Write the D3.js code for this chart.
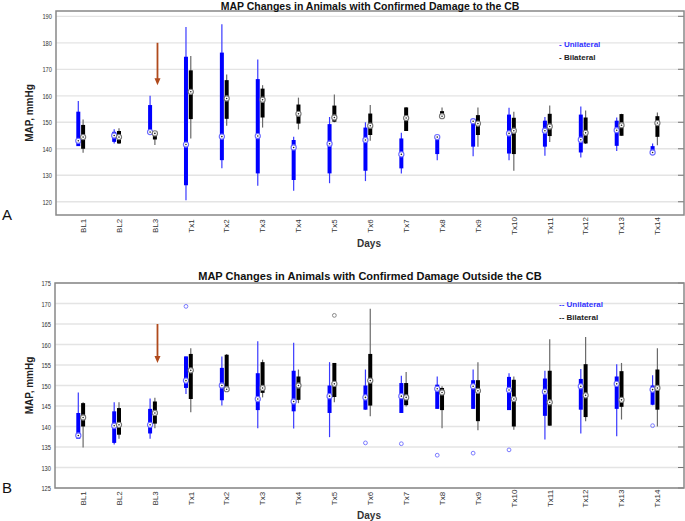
<!DOCTYPE html>
<html>
<head>
<meta charset="utf-8">
<script src="https://cdn.jsdelivr.net/npm/d3@7"></script>
<style>
  body { margin: 0; background: #fff; }
  svg { display: block; font-family: "Liberation Sans", Arial, sans-serif; }
</style>
</head>
<body>
<div id="chart"></div>
<script>
const days = ["BL1", "BL2", "BL3", "Tx1", "Tx2", "Tx3", "Tx4", "Tx5", "Tx6", "Tx7", "Tx8", "Tx9", "Tx10", "Tx11", "Tx12", "Tx13", "Tx14"];

// each box: [whiskerLow, q1, median, q3, whiskerHigh]
const cbUnilateral = [
  [141, 141, 143, 154, 158], [142, 142.6, 145, 146.4, 147.4], [146.2, 146.2, 146.3, 156.5, 160],
  [120.6, 126.2, 141.6, 174.7, 186], [132.6, 135.7, 144.6, 176.3, 187], [126, 130.7, 144.8, 166.3, 173.7],
  [124.2, 128.2, 140.5, 143.3, 144.5], [127, 130.7, 141.9, 149.3, 152], [127.8, 131.7, 143.3, 148, 150],
  [130.7, 132.6, 137.9, 143.9, 146], [135.7, 138, 144.4, 144.3, 144.5], [137.2, 140.8, 150.4, 150.8, 151.4],
  [135.7, 138.2, 145.8, 152.9, 155.5], [137.4, 140.8, 146.8, 150.6, 152], [136.7, 138.6, 143.4, 152.9, 156],
  [139.2, 141.1, 147, 150.6, 151.8], [138.5, 138.6, 138.6, 141, 142]
];
const cbBilateral = [
  [138.5, 140, 144.4, 149, 151], [141.8, 142, 144.4, 146.7, 147.7], [141.4, 143.5, 145.8, 146, 146.4],
  [143.9, 151.2, 161.5, 169.6, 175], [148.7, 151.3, 159, 165.9, 168], [148, 151.8, 158.5, 162.7, 164],
  [147.3, 149.5, 153.2, 156.7, 159.3], [150, 150.2, 151.8, 156.3, 160.5], [143, 145.2, 148.7, 153.3, 156.5],
  [146.7, 146.7, 151.6, 155.6, 155.8], [151.4, 151.4, 152.3, 154.2, 155.6], [140.8, 145.2, 149.5, 152.7, 155.6],
  [131.7, 138, 146.8, 151.7, 154], [142.6, 144.8, 148.4, 153.2, 156.3], [141.8, 142, 146, 151.8, 154.4],
  [144.9, 144.9, 148.9, 153.1, 153.2], [141.3, 144.5, 149.7, 152.3, 153.7]
];
const outUnilateral = [
  [137, 137, 137.8, 143.3, 148.3], [135.6, 136, 140.2, 143.7, 145.9], [137, 138.3, 140.4, 144.3, 146.8],
  [147.9, 149.4, 151.2, 157.1, 157.1], [145.1, 146.4, 150, 154.3, 157.1], [139.6, 144, 146.7, 153, 160.8],
  [139.5, 143.7, 146.1, 153.6, 160.4], [137.4, 143.3, 147.4, 150, 155.7], [144.1, 144.1, 147.1, 150, 153.9],
  [143.3, 143.3, 147.4, 150.6, 152.4], [144.3, 144.3, 149.2, 150.2, 152.2], [144.3, 144.3, 149.8, 151.3, 153.9],
  [144, 144, 148.9, 152.1, 153], [136.8, 142.6, 148.5, 151.7, 153.6], [138.3, 144.1, 149.8, 151.6, 154],
  [137.6, 144.3, 150.4, 152.2, 155.2], [145.2, 145.3, 149, 150, 152.5]
];
const outBilateral = [
  [134.9, 140, 142.2, 145.7, 145.9], [137, 138, 140.4, 144.5, 145.9], [139.6, 140.7, 143.3, 146.1, 147],
  [143.5, 146.7, 153.7, 157.7, 159.1], [149, 149, 149.1, 157.5, 157.7], [147.1, 148.2, 149.4, 155.7, 156.3],
  [145.7, 146.5, 150, 152.2, 153.9], [145.9, 147.2, 150.4, 155.5, 155.5], [142.5, 145.1, 151.2, 157.7, 168.7],
  [144.9, 145.2, 147.1, 150.6, 153.3], [139.6, 144, 148.3, 149.4, 149.8], [139.1, 141.3, 148.7, 151.3, 155.7],
  [139.2, 140, 146.7, 151.4, 152.2], [140.2, 140.2, 145.9, 153.6, 161.3], [141.3, 142.3, 147.6, 155.2, 161.8],
  [141.7, 144.8, 146.5, 153.5, 155.5], [140, 144.1, 149.4, 153.9, 159.1]
];
// outliers: [dayIndex, value]
const outUniOutliers = [[3, 169.3], [8, 136], [9, 135.8], [10, 133], [11, 133.5], [12, 134.3], [16, 140.2]];
const outBiOutliers = [[7, 167.1]];

const cbTicks = [120, 130, 140, 150, 160, 170, 180, 190];
const outTicks = [125, 130, 135, 140, 145, 150, 155, 160, 165, 170, 175];

const W = 685, H = 521;
const svg = d3.select("#chart").append("svg").attr("width", W).attr("height", H);

const x = d3.scaleLinear().domain([0, 16]).range([80.7, 655]);
const off = 2.4;

function panel(cfg) {
  const y = d3.scaleLinear().domain(cfg.domain).range([cfg.bottom, cfg.top]);
  const g = svg.append("g");
  const left = cfg.left, right = 684;

  // grid
  g.selectAll(".grid").data(cfg.ticks).join("line")
    .attr("x1", left).attr("x2", right)
    .attr("y1", d => y(d)).attr("y2", d => y(d))
    .attr("stroke", "#e4e4e4").attr("stroke-width", 1.3);

  // inner ticks on both sides
  g.selectAll(".rt").data(cfg.ticks).join("line")
    .attr("x1", right - 6).attr("x2", right)
    .attr("y1", d => y(d)).attr("y2", d => y(d))
    .attr("stroke", "#777").attr("stroke-width", 1);

  // tick labels
  g.selectAll(".tl").data(cfg.ticks).join("text")
    .attr("transform", d => `translate(${left - 4},${y(d) + 3}) scale(0.72,1)`)
    .attr("text-anchor", "end")
    .attr("font-size", 8).attr("fill", "#333")
    .text(d => d);

  // frame
  g.append("rect")
    .attr("x", left).attr("y", cfg.top)
    .attr("width", right - left).attr("height", cfg.bottom - cfg.top)
    .attr("fill", "none").attr("stroke", "#888").attr("stroke-width", 1.5);

  // arrow
  const ax = x(2) + 5;
  g.append("line")
    .attr("x1", ax).attr("x2", ax)
    .attr("y1", y(cfg.arrow[0])).attr("y2", y(cfg.arrow[1]) - 6)
    .attr("stroke", "#b04a1c").attr("stroke-width", 1.8);
  g.append("path")
    .attr("d", `M${ax - 3},${y(cfg.arrow[1]) - 7} L${ax + 3},${y(cfg.arrow[1]) - 7} L${ax},${y(cfg.arrow[1])} Z`)
    .attr("fill", "#b04a1c");

  const series = [
    { data: cfg.uni, dx: -off, col: "#0000ff", wcol: "#3a3aff", ring: "#6b6bff" },
    { data: cfg.bi, dx: off, col: "#000", wcol: "#6a6a6a", ring: "#777" }
  ];
  series.forEach(s => {
    const sg = g.append("g");
    sg.selectAll(".wh").data(s.data).join("line")
      .attr("x1", (d, i) => x(i) + s.dx).attr("x2", (d, i) => x(i) + s.dx)
      .attr("y1", d => y(d[0])).attr("y2", d => y(d[4]))
      .attr("stroke", s.wcol).attr("stroke-width", 1.2);
    sg.selectAll(".bx").data(s.data).join("line")
      .attr("x1", (d, i) => x(i) + s.dx).attr("x2", (d, i) => x(i) + s.dx)
      .attr("y1", d => y(d[1])).attr("y2", d => y(d[3]))
      .attr("stroke", s.col).attr("stroke-width", 4);
    sg.selectAll(".md").data(s.data).join("circle")
      .attr("cx", (d, i) => x(i) + s.dx).attr("cy", d => y(d[2]))
      .attr("r", 2.6).attr("fill", "#fff")
      .attr("stroke", s.ring).attr("stroke-width", 1.1);
    sg.selectAll(".dt").data(s.data).join("circle")
      .attr("cx", (d, i) => x(i) + s.dx).attr("cy", d => y(d[2]))
      .attr("r", 0.8).attr("fill", "#222");
  });

  // outliers
  g.selectAll(".ou").data(cfg.uniOut).join("circle")
    .attr("cx", d => x(d[0]) - off).attr("cy", d => y(d[1]))
    .attr("r", 1.9).attr("fill", "none").attr("stroke", "#7a7aff").attr("stroke-width", 1);
  g.selectAll(".ob").data(cfg.biOut).join("circle")
    .attr("cx", d => x(d[0]) + off).attr("cy", d => y(d[1]))
    .attr("r", 1.9).attr("fill", "none").attr("stroke", "#888").attr("stroke-width", 1);

  // x labels
  g.selectAll(".xl").data(days).join("text")
    .attr("transform", (d, i) => `translate(${x(i) + off},${cfg.xLabelY}) rotate(-90)`)
    .attr("text-anchor", "middle").attr("dy", "0.35em")
    .attr("font-size", 8).attr("fill", "#333")
    .text(d => d);

  g.append("text").attr("x", 369).attr("y", cfg.daysY)
    .attr("text-anchor", "middle").attr("font-size", 10).attr("font-weight", "bold").attr("fill", "#333")
    .text("Days");

  g.append("text")
    .attr("transform", `translate(33,${(cfg.top + cfg.bottom) / 2}) rotate(-90)`)
    .attr("text-anchor", "middle").attr("font-size", 10).attr("font-weight", "bold").attr("fill", "#222")
    .text("MAP, mmHg");

  g.append("text").attr("x", 370).attr("y", cfg.titleY)
    .attr("text-anchor", "middle").attr("font-size", cfg.titleSize).attr("font-weight", "bold").attr("fill", "#111")
    .text(cfg.title);

  g.append("text").attr("x", 559).attr("y", cfg.legY)
    .attr("font-size", 8).attr("font-weight", "bold").attr("fill", "#3333ff")
    .text(cfg.dash + " Unilateral");
  g.append("text").attr("x", 559).attr("y", cfg.legY + 13)
    .attr("font-size", 8).attr("font-weight", "bold").attr("fill", "#222")
    .text(cfg.dash + " Bilateral");

  g.append("text").attr("x", 2).attr("y", cfg.letterY)
    .attr("font-size", 15).attr("fill", "#111")
    .text(cfg.letter);
}

panel({
  domain: [115, 192], top: 11, bottom: 215, left: 56, ticks: cbTicks,
  uni: cbUnilateral, bi: cbBilateral, uniOut: [], biOut: [],
  arrow: [180, 164], xLabelY: 226, daysY: 246.5, titleY: 9.5, titleSize: 10.5,
  title: "MAP Changes in Animals with Confirmed Damage to the CB",
  legY: 46.5, dash: "-", letter: "A", letterY: 220
});

panel({
  domain: [125, 175], top: 283, bottom: 488, left: 55, ticks: outTicks,
  uni: outUnilateral, bi: outBilateral, uniOut: outUniOutliers, biOut: outBiOutliers,
  arrow: [165, 155.5], xLabelY: 498.5, daysY: 519, titleY: 279.5, titleSize: 11,
  title: "MAP Changes in Animals with Confirmed Damage Outside the CB",
  legY: 306.5, dash: "--", letter: "B", letterY: 493
});
</script>
</body>
</html>
